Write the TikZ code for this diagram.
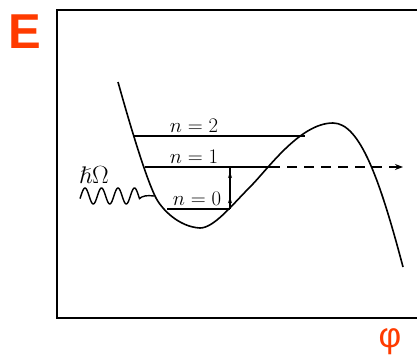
\documentclass[tikz,border=0pt]{standalone}
\usepackage{amssymb}
\usepackage{fontspec}
\setsansfont{Liberation Sans}
\usetikzlibrary{arrows.meta,decorations.markings}
\definecolor{ered}{RGB}{255,59,0}
\begin{document}
\begin{tikzpicture}[x=1pt,y=-1pt,
  frame/.style={line width=1.8pt},
  pot/.style={line width=1.6pt},
  level/.style={line width=1.3pt},
  lab/.style={font=\fontsize{22}{26}\selectfont, inner sep=0pt},
  bigl/.style={text=ered, inner sep=0pt, font=\sffamily}]
\useasboundingbox (0,0) rectangle (417,361);
% frame
\coordinate (tr) at (417,10);
\coordinate (tl) at (57,10);
\coordinate (bl) at (57,318);
\coordinate (br) at (417,318);
\draw[frame] (tr) -- (tl) -- (bl) -- (br);
% potential
\coordinate (p0) at (118,82);
\coordinate (p1) at (155,196);
\coordinate (pmin) at (200,228);
\coordinate (pinf) at (250,187);
\coordinate (pmax) at (333,123);
\coordinate (pend) at (403,267);
\draw[pot] (p0) .. controls (130,125) and (145,175) .. (p1)
  .. controls (161,209) and (179,227) .. (pmin)
  .. controls (214,228) and (232,205) .. (pinf)
  .. controls (268,169) and (300,123) .. (pmax)
  .. controls (360,123) and (380,180) .. (pend);
% levels
\coordinate (n2l) at (133,136);
\coordinate (n2r) at (305,136);
\coordinate (n1l) at (145,167);
\coordinate (n1m) at (270,167);
\coordinate (n1r) at (403,167);
\coordinate (n0l) at (167,209);
\coordinate (n0r) at (230,209);
\coordinate (n1a) at (230,167);
\draw[level] (n2l) -- (n2r);
\draw[level] (n1l) -- (n1m);
\draw[level, dash pattern=on 10pt off 7pt, -{Stealth[length=8pt,width=6pt]}] (n1m) -- (n1r);
\draw[level] (n0l) -- (n0r);
\draw[level, postaction={decorate}, decoration={markings,
   mark=at position 0.28 with {\arrow{Stealth[length=6pt,width=4pt]}},
   mark=at position 0.88 with {\arrow{Stealth[length=6pt,width=4pt]}}}] (n0r) -- (n1a);
% labels
\node[lab] (l2) at (194,126) {$n=2$};
\node[lab] (l1) at (194,157) {$n=1$};
\node[lab] (l0) at (197,199) {$n=0$};
\node[lab, anchor=south, font=\fontsize{24}{28}\selectfont] (hb) at (94,184) {$\hslash\Omega$};
% wave
\coordinate (wend) at (154,196);
\draw[line width=1.4pt] plot[domain=80:139.5, samples=120, smooth] (\x,{196-8*sin((\x-85)*21.818+90)})
  .. controls (142,196) and (147,195) .. (wend);
% axis labels
\node[bigl, font=\sffamily\bfseries\fontsize{49}{50}\selectfont] (E) at (25,32) {E};
\node[bigl, font=\sffamily\fontsize{35}{36}\selectfont] (phi) at (390,342) {φ};
\end{tikzpicture}
\end{document}
